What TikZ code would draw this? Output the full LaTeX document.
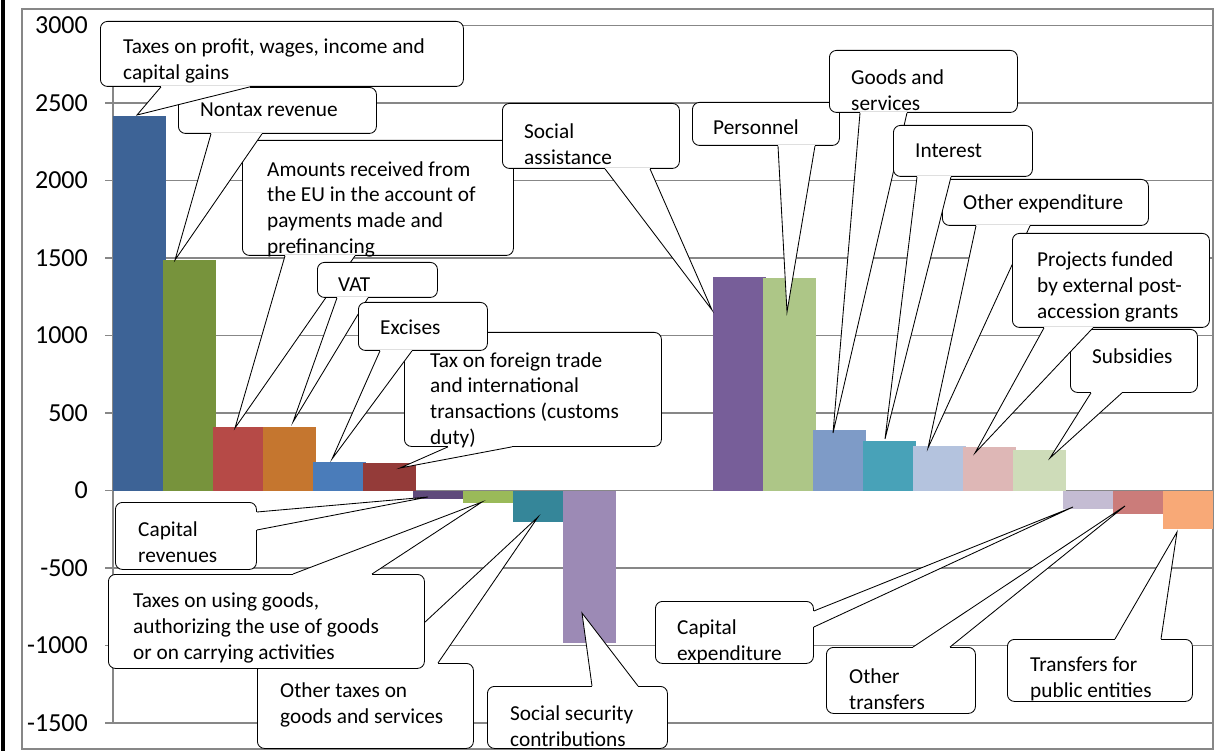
\documentclass[tikz,border=0pt]{standalone}
\usepackage{fontspec}
\setmainfont{Carlito}
\usetikzlibrary{calc,positioning}

\definecolor{gridgray}{HTML}{878787}
\definecolor{rev1}{HTML}{3D6396}
\definecolor{rev2}{HTML}{77933C}
\definecolor{rev3}{HTML}{B64A47}
\definecolor{rev4}{HTML}{C5762F}
\definecolor{rev5}{HTML}{4A7CBA}
\definecolor{rev6}{HTML}{943B39}
\definecolor{rev7}{HTML}{5F4A7B}
\definecolor{rev8}{HTML}{9ABA59}
\definecolor{rev9}{HTML}{358699}
\definecolor{rev10}{HTML}{9C8AB5}
\definecolor{exp1}{HTML}{775E99}
\definecolor{exp2}{HTML}{ADC687}
\definecolor{exp3}{HTML}{7E9BC7}
\definecolor{exp4}{HTML}{48A2B8}
\definecolor{exp5}{HTML}{B4C3DE}
\definecolor{exp6}{HTML}{DEB7B6}
\definecolor{exp7}{HTML}{CEDCB9}
\definecolor{exp8}{HTML}{C4BCD3}
\definecolor{exp9}{HTML}{CB7C7A}
\definecolor{exp10}{HTML}{F8A977}

% wedge of a callout: base point, tip, base point
\newcommand{\wedgeto}[3]{%
  \fill[white] (#1) -- (#2) -- (#3) -- cycle;
  \draw[white, line width=2pt] (#1) -- (#3);
  \draw[pointer] (#1) -- (#2) -- (#3);
}

\begin{document}
\begin{tikzpicture}[x=1pt, y=-1pt,
		box/.style={draw=black, fill=white, line width=0.85pt, rounded corners=7pt, anchor=north west, inner sep=0pt},
		txt/.style={anchor=west, align=left, inner sep=0pt, font=\fontsize{21.3}{25.7}\selectfont},
		axislabel/.style={anchor=east, inner sep=0pt, font=\fontsize{26}{30}\selectfont},
		pointer/.style={draw=black, line width=0.85pt, line join=miter},
		grid line/.style={draw=gridgray, line width=1.6pt}
		]
	\useasboundingbox (0,0) rectangle (1216,751);

	% frame and axes
	\draw[black, line width=4pt] (3,0) -- (3,751);
	\draw[grid line] (22,9) rectangle (1213,749);
	\foreach \v in {-1500,-1000,...,3000} {
		\draw[grid line] (105,{490.6-0.155*\v}) -- (1213,{490.6-0.155*\v});
		\node[axislabel] (lab\v) at (88,{490.6-0.155*\v}) {\v};
	}
	\draw[grid line] (113,25.5) -- (113,723);

	% bars
	\foreach \k/\v/\c in {0/2420/rev1, 1/1490/rev2, 2/410/rev3, 3/410/rev4, 4/184/rev5,
			5/178/rev6, 6/-52/rev7, 7/-80/rev8, 8/-200/rev9, 9/-981/rev10,
			12/1380/exp1, 13/1370/exp2, 14/391/exp3, 15/320/exp4, 16/287/exp5,
			17/279/exp6, 18/262/exp7, 19/-119/exp8, 20/-150/exp9, 21/-246/exp10} {
		\pgfmathsetmacro{\xr}{min(166+50*\k,1213)}
		\fill[\c] ({113+50*\k},490.6) rectangle (\xr,{490.6-0.155*\v});
	}

	% tips of the callouts
	\coordinate (tipprofit) at (137,115);
	\coordinate (tipnontax) at (175,260);
	\coordinate (tipamounts) at (235,428);
	\coordinate (tipvat) at (293,422);
	\coordinate (tipexcises) at (332,459);
	\coordinate (tipforeign) at (400,468);
	\coordinate (tipcaprev) at (428,497);
	\coordinate (tipusing) at (482,502);
	\coordinate (tipothertax) at (538,517);
	\coordinate (tipsocsec) at (582,613);
	\coordinate (tipsocial) at (712,310);
	\coordinate (tippersonnel) at (787,312);
	\coordinate (tipgoods) at (833,433);
	\coordinate (tipinterest) at (885,439);
	\coordinate (tipotherexp) at (928,448);
	\coordinate (tipprojects) at (975,453);
	\coordinate (tipsubsidies) at (1050,458);
	\coordinate (tipcapexp) at (1073,507);
	\coordinate (tiptransfers) at (1125,506);
	\coordinate (tippublic) at (1177,532);

	% revenue callouts
	\node[box, minimum width=271, minimum height=115] (amounts) at (242,140) {};
	\wedgeto{$(amounts.south west)+(43,0)$}{tipamounts}{$(amounts.south west)+(113,0)$}
	\node[txt] (amountstext) at (267,209) {Amounts received from\\the EU in the account of\\payments made and\\prefinancing};

	\node[box, minimum width=198, minimum height=46] (nontax) at (178,87) {};
	\wedgeto{$(nontax.south west)+(33,0)$}{tipnontax}{$(nontax.south west)+(84,0)$}
	\node[txt] (nontaxtext) at (200,110) {Nontax revenue};

	\node[box, minimum width=363, minimum height=65] (profit) at (100,21) {};
	\wedgeto{$(profit.south west)+(61,0)$}{tipprofit}{$(profit.south west)+(150,0)$}
	\node[txt] (profittext) at (123,61) {Taxes on profit, wages, income and\\capital gains};

	\node[box, minimum width=257, minimum height=114] (foreign) at (404,332) {};
	\wedgeto{$(foreign.south west)+(44,0)$}{tipforeign}{$(foreign.south west)+(108,0)$}
	\node[txt] (foreigntext) at (430,400) {Tax on foreign trade\\and international\\transactions (customs\\duty)};

	\node[box, minimum width=120, minimum height=35] (vat) at (317,262) {};
	\wedgeto{$(vat.south west)+(20,0)$}{tipvat}{$(vat.south west)+(51,0)$}
	\node[txt] (vattext) at (338,285) {VAT};

	\node[box, minimum width=129, minimum height=48] (excises) at (358,302) {};
	\wedgeto{$(excises.south west)+(22,0)$}{tipexcises}{$(excises.south west)+(54,0)$}
	\node[txt] (excisestext) at (380,327) {Excises};

	\node[box, minimum width=216, minimum height=85] (othertax) at (257,663) {};
	\wedgeto{$(othertax.north west)+(124,0)$}{tipothertax}{$(othertax.north west)+(181,0)$}
	\node[txt] (othertaxtext) at (280,705) {Other taxes on\\goods and services};

	\node[box, minimum width=316, minimum height=94] (using) at (108,574) {};
	\wedgeto{$(using.north west)+(185,0)$}{tipusing}{$(using.north west)+(264,0)$}
	\node[txt] (usingtext) at (133,628) {Taxes on using goods,\\authorizing the use of goods\\or on carrying activities};

	\node[box, minimum width=141, minimum height=67] (caprev) at (115,502) {};
	\wedgeto{$(caprev.north east)+(0,10)$}{tipcaprev}{$(caprev.north east)+(0,28)$}
	\node[txt] (caprevtext) at (138,542) {Capital\\revenues};

	\node[box, minimum width=180, minimum height=62] (socsec) at (487,686) {};
	\wedgeto{$(socsec.north west)+(105,0)$}{tipsocsec}{$(socsec.north west)+(151,0)$}
	\node[txt] (socsectext) at (510,726) {Social security\\contributions};

	% expenditure callouts
	\node[box, minimum width=177, minimum height=65] (social) at (502,103) {};
	\wedgeto{$(social.south west)+(103,0)$}{tipsocial}{$(social.south west)+(148,0)$}
	\node[txt] (socialtext) at (524,144) {Social\\assistance};

	\node[box, minimum width=147, minimum height=43] (personnel) at (692,102) {};
	\wedgeto{$(personnel.south west)+(86,0)$}{tippersonnel}{$(personnel.south west)+(123,0)$}
	\node[txt] (personneltext) at (713,127) {Personnel};

	\node[box, minimum width=188, minimum height=62] (goods) at (829,50) {};
	\wedgeto{$(goods.south west)+(31,0)$}{tipgoods}{$(goods.south west)+(78,0)$}
	\node[txt] (goodstext) at (851,90) {Goods and\\services};

	\node[box, minimum width=206, minimum height=46] (otherexp) at (942,179) {};
	\wedgeto{$(otherexp.south west)+(34,0)$}{tipotherexp}{$(otherexp.south west)+(88,0)$}
	\node[txt] (otherexptext) at (963,204) {Other expenditure};

	\node[box, minimum width=139, minimum height=51] (interest) at (893,125) {};
	\wedgeto{$(interest.south west)+(24,0)$}{tipinterest}{$(interest.south west)+(58,0)$}
	\node[txt] (interesttext) at (915,151) {Interest};

	\node[box, minimum width=127, minimum height=63] (subsidies) at (1070,329) {};
	\wedgeto{$(subsidies.south west)+(21,0)$}{tipsubsidies}{$(subsidies.south west)+(52,0)$}
	\node[txt] (subsidiestext) at (1092,356) {Subsidies};

	\node[box, minimum width=197, minimum height=94] (projects) at (1012,233) {};
	\wedgeto{$(projects.south west)+(32,0)$}{tipprojects}{$(projects.south west)+(81,0)$}
	\node[txt] (projectstext) at (1037,287) {Projects funded\\by external post-\\accession grants};

	\node[box, minimum width=158, minimum height=62] (capexp) at (655,601) {};
	\wedgeto{$(capexp.north east)+(0,10)$}{tipcapexp}{$(capexp.north east)+(0,26)$}
	\node[txt] (capexptext) at (677,642) {Capital\\expenditure};

	\node[box, minimum width=149, minimum height=66] (transfers) at (826,647) {};
	\wedgeto{$(transfers.north west)+(87,0)$}{tiptransfers}{$(transfers.north west)+(124,0)$}
	\node[txt] (transferstext) at (849,689) {Other\\transfers};

	\node[box, minimum width=185, minimum height=62] (public) at (1007,639) {};
	\wedgeto{$(public.north west)+(108,0)$}{tippublic}{$(public.north west)+(154,0)$}
	\node[txt] (publictext) at (1030,679) {Transfers for\\public entities};
\end{tikzpicture}
\end{document}
